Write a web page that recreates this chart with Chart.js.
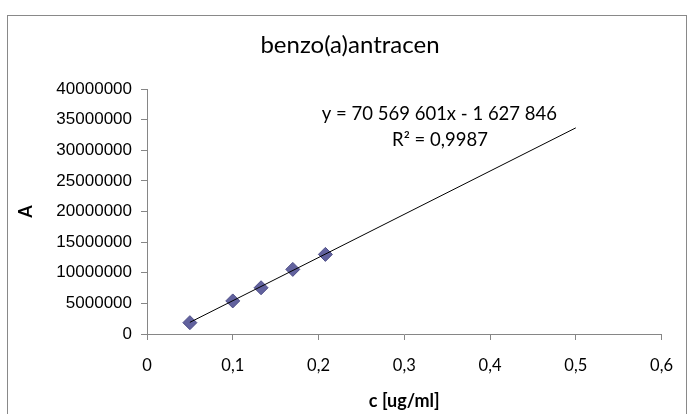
<!DOCTYPE html>
<html>
<head>
<meta charset="utf-8">
<script src="https://cdn.jsdelivr.net/npm/chart.js@4/dist/chart.umd.min.js"></script>
<style>
html,body{margin:0;padding:0;background:#fff;}
#wrap{width:689px;height:414px;position:relative;}
</style>
</head>
<body>
<div id="wrap"><canvas id="c" width="689" height="414"></canvas></div>
<script>
// Data
const concentrations = [0.05, 0.1, 0.133, 0.17, 0.208];
const absorbances = [1850000, 5400000, 7550000, 10550000, 13000000];
const trendSlope = 70569601;
const trendIntercept = -1627846;
const trendRange = [0.05, 0.5];
const chartTitle = 'benzo(a)antracen';
const equationText = 'y = 70 569 601x - 1 627 846';
const r2Text = 'R² = 0,9987';
const xTitle = 'c [ug/ml]';
const yTitle = 'A';

const scatterPoints = concentrations.map((x, i) => ({x: x, y: absorbances[i]}));
const trendPoints = trendRange.map(x => ({x: x, y: trendSlope * x + trendIntercept}));

const decor = {
  id: 'decor',
  beforeDraw(chart) {
    const ctx = chart.ctx;
    ctx.save();
    ctx.fillStyle = '#fff';
    ctx.fillRect(0, 0, chart.width, chart.height);
    ctx.strokeStyle = '#898989';
    ctx.lineWidth = 1;
    ctx.strokeRect(7.5, 15.5, 679, 440);
    ctx.restore();
  },
  afterDraw(chart) {
    const ctx = chart.ctx;
    ctx.save();
    ctx.fillStyle = '#000';
    ctx.textBaseline = 'middle';
    ctx.textAlign = 'center';
    ctx.font = '24px Lato';
    ctx.fillText(chartTitle, 350, 45);
    ctx.font = '18.5px Lato';
    ctx.textAlign = 'right';
    ctx.fillText(equationText, 557, 114);
    ctx.textAlign = 'center';
    ctx.fillText(r2Text, 440, 140);
    ctx.restore();
  }
};

new Chart(document.getElementById('c'), {
  data: {
    datasets: [
      {
        type: 'line',
        data: trendPoints,
        borderColor: '#000',
        borderWidth: 1,
        pointRadius: 0,
        fill: false,
        order: 0
      },
      {
        type: 'scatter',
        data: scatterPoints,
        pointStyle: 'rectRot',
        pointRadius: 7,
        backgroundColor: '#62629E',
        borderColor: '#4E4E88',
        borderWidth: 1,
        order: 1
      }
    ]
  },
  options: {
    responsive: false,
    animation: false,
    layout: {padding: {left: 0, right: 26, top: 89, bottom: 0}},
    plugins: {legend: {display: false}, tooltip: {enabled: false}, title: {display: false}},
    scales: {
      x: {
        type: 'linear',
        min: 0, max: 0.6,
        afterFit(s) { s.height = 80; },
        ticks: {
          stepSize: 0.1,
          color: '#000',
          padding: 16,
          font: {family: 'Lato', size: 16.5},
          callback: v => String(Math.round(v * 10) / 10).replace('.', ',')
        },
        grid: {drawOnChartArea: false, tickLength: 6, color: '#868686'},
        border: {color: '#868686'},
        title: {display: true, text: xTitle, color: '#000', font: {family: 'Lato', size: 18, weight: 'bold'}, padding: {top: 0, bottom: 2}}
      },
      y: {
        type: 'linear',
        min: 0, max: 40000000,
        afterFit(s) { s.width = 147; },
        ticks: {
          stepSize: 5000000,
          color: '#000',
          padding: 9,
          font: {family: 'Liberation Sans', size: 17},
          callback: v => String(v)
        },
        grid: {drawOnChartArea: false, tickLength: 6, color: '#868686'},
        border: {color: '#868686'},
        title: {display: true, text: yTitle, color: '#000', font: {family: 'Lato', size: 18, weight: 'bold'}, padding: {top: 15, bottom: 0}}
      }
    }
  },
  plugins: [decor]
});
</script>
</body>
</html>
